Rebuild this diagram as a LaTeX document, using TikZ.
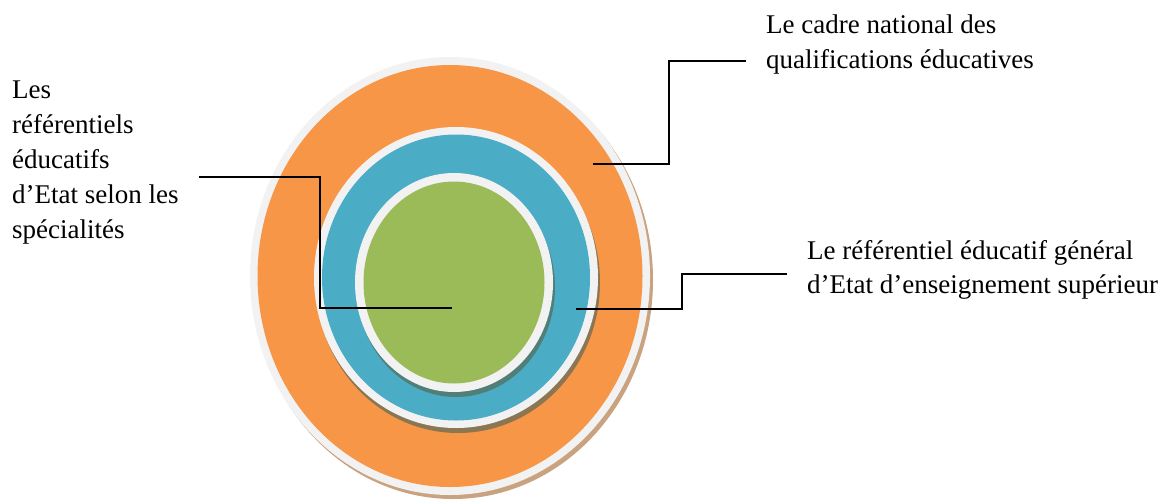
\documentclass[tikz,border=0pt]{standalone}
\usepackage{fontspec}
\setmainfont{Liberation Serif}
\usetikzlibrary{shapes.geometric}
\definecolor{ringgrey}{HTML}{F2F2F2}
\definecolor{orangefill}{HTML}{F79646}
\definecolor{bluefill}{HTML}{4BACC6}
\definecolor{greenfill}{HTML}{9BBB59}
\definecolor{shadowouter}{HTML}{C9A27F}
\definecolor{shadowmiddle}{HTML}{8B7653}
\definecolor{shadowinner}{HTML}{507F78}
\begin{document}
\begin{tikzpicture}[x=1pt,y=-1pt,
  disc/.style={ellipse, inner sep=0pt, draw=none},
  conn/.style={draw=black, line width=1.8pt},
  lbl/.style={anchor=base west, align=left, inner sep=0pt,
    font=\fontsize{27}{35}\selectfont}]
\useasboundingbox (0,0) rectangle (1172,499);
% outer disc
\node[disc, fill=shadowouter, minimum width=400pt, minimum height=438pt] (outershadow) at (453,280) {};
\node[disc, fill=ringgrey, minimum width=400pt, minimum height=438pt] (outerring) at (450,276) {};
\node[disc, fill=orangefill, minimum width=385pt, minimum height=422pt] (outer) at (450,276) {};
% middle disc
\node[disc, fill=shadowmiddle, minimum width=284pt, minimum height=301pt] (middleshadow) at (458,282.5) {};
\node[disc, fill=ringgrey, minimum width=284pt, minimum height=301pt] (middlering) at (456,277.5) {};
\node[disc, fill=bluefill, minimum width=268pt, minimum height=286pt] (middle) at (456,277.5) {};
% inner disc
\node[disc, fill=shadowinner, minimum width=198pt, minimum height=219pt] (innershadow) at (456,287.5) {};
\node[disc, fill=ringgrey, minimum width=198pt, minimum height=219pt] (innerring) at (454,282.5) {};
\node[disc, fill=greenfill, minimum width=181pt, minimum height=202pt] (inner) at (454,282.5) {};
% labels (anchored at the baseline of their last line)
\node[lbl] (lblleft) at (12,238) {Les\\référentiels\\éducatifs\\d’Etat selon les\\spécialités};
\node[lbl] (lbltop) at (766,68) {Le cadre national des\\qualifications éducatives};
\node[lbl, font=\fontsize{27}{34}\selectfont] (lblright) at (807,293) {Le référentiel éducatif général\\d’Etat d’enseignement supérieur};
% connector points
\coordinate (la) at (199,177);
\coordinate (lb) at (320,177);
\coordinate (lc) at (320,308);
\coordinate (ld) at (452,308);
\coordinate (ta) at (593,164);
\coordinate (tb) at (669,164);
\coordinate (tc) at (669,61);
\coordinate (td) at (746,61);
\coordinate (ra) at (576,309);
\coordinate (rb) at (682,309);
\coordinate (rc) at (682,274);
\coordinate (rd) at (787,274);
\draw[conn] (la) -- (lb) -- (lc) -- (ld);
\draw[conn] (ta) -- (tb) -- (tc) -- (td);
\draw[conn] (ra) -- (rb) -- (rc) -- (rd);
\end{tikzpicture}
\end{document}
